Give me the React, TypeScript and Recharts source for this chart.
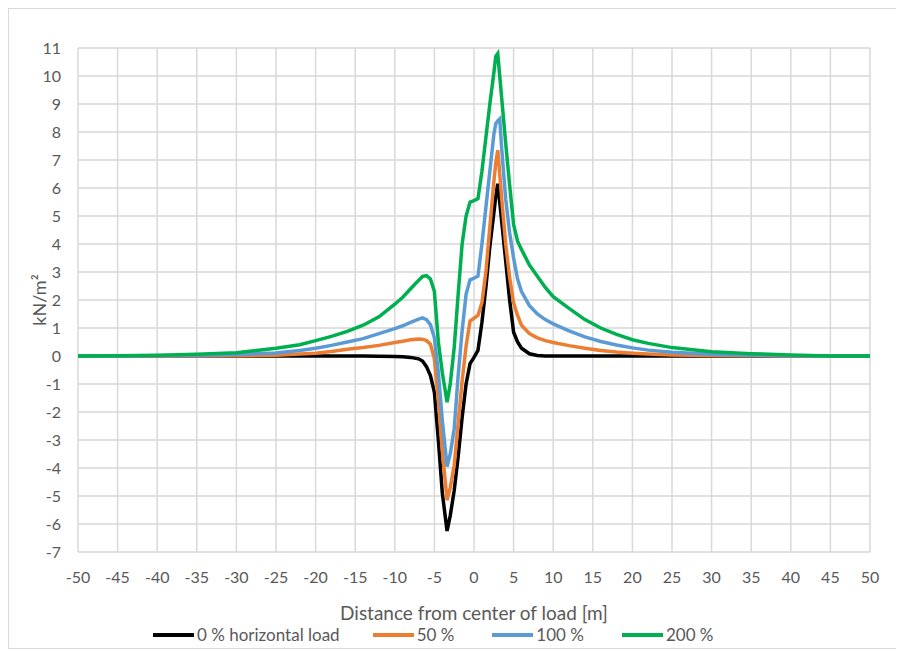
import { LineChart, Line, XAxis, YAxis, CartesianGrid, Legend } from 'recharts'

// distance from center of load [m]
const distance = [
  -50, -45, -40, -35, -30, -25, -22, -20, -18, -16, -14, -12, -10, -9, -8, -7, -6.5, -6, -5.5, -5,
  -4.5, -4, -3.4, -3, -2.5, -2, -1.5, -1, -0.5, 0, 0.5, 1, 1.5, 2, 2.5, 2.75, 3, 3.25, 3.5, 4,
  4.5, 5, 5.5, 6, 7, 8, 9, 10, 12, 14, 16, 18, 20, 22, 25, 30, 35, 40, 45, 50,
]

// kN/m2 for each horizontal load level
const load0 = [
  0, 0, 0, 0, 0, 0, 0, 0, 0, 0, 0, -0.01, -0.02, -0.03, -0.05, -0.1, -0.18, -0.38, -0.7, -1.3,
  -3.0, -4.9, -6.25, -5.7, -4.8, -3.6, -2.2, -1.0, -0.27, -0.05, 0.2, 1.2, 2.45, 3.9, 5.1, 5.7, 6.15, 5.5, 4.8, 3.4,
  2.0, 0.85, 0.5, 0.28, 0.08, 0.02, 0, 0, 0, 0, 0, 0, 0, 0, 0, 0, 0, 0, 0, 0,
]
const load50 = [
  0, 0, 0, 0, 0.01, 0.03, 0.07, 0.1, 0.16, 0.24, 0.3, 0.38, 0.48, 0.53, 0.58, 0.61, 0.6, 0.55, 0.42, -0.1,
  -1.6, -3.4, -5.15, -4.7, -3.9, -2.4, -0.9, 0.35, 1.25, 1.35, 1.45, 1.9, 3.0, 4.6, 6.2, 6.9, 7.35, 6.5, 5.6, 4.0,
  2.8, 1.9, 1.45, 1.1, 0.8, 0.65, 0.55, 0.48, 0.37, 0.28, 0.2, 0.14, 0.1, 0.07, 0.04, 0.02, 0.01, 0, 0, 0,
]
const load100 = [
  0, 0, 0.01, 0.02, 0.05, 0.11, 0.2, 0.28, 0.38, 0.5, 0.62, 0.8, 0.98, 1.08, 1.2, 1.32, 1.36, 1.3, 1.12, 0.65,
  -0.6, -2.3, -3.95, -3.5, -2.6, -0.7, 0.9, 2.2, 2.72, 2.78, 2.85, 4.0, 5.3, 6.6, 7.9, 8.3, 8.4, 8.47, 7.4, 5.6,
  4.4, 3.5, 2.75, 2.3, 1.8, 1.5, 1.3, 1.15, 0.9, 0.68, 0.52, 0.39, 0.29, 0.21, 0.13, 0.06, 0.03, 0.01, 0, 0,
]
const load200 = [
  0, 0.01, 0.03, 0.06, 0.12, 0.28, 0.4, 0.55, 0.7, 0.88, 1.1, 1.4, 1.85, 2.1, 2.4, 2.7, 2.84, 2.87, 2.75, 2.3,
  0.5, -0.6, -1.65, -1.0, 0.3, 2.2, 4.0, 5.0, 5.5, 5.55, 5.62, 6.6, 7.8, 9.0, 10.1, 10.7, 10.8, 10.0, 9.2, 7.6,
  6.1, 4.7, 4.1, 3.8, 3.25, 2.85, 2.45, 2.12, 1.7, 1.3, 1.0, 0.77, 0.58, 0.45, 0.3, 0.15, 0.08, 0.04, 0, 0,
]

const xTicks = [-50, -45, -40, -35, -30, -25, -20, -15, -10, -5, 0, 5, 10, 15, 20, 25, 30, 35, 40, 45, 50]
const yTicks = [-7, -6, -5, -4, -3, -2, -1, 0, 1, 2, 3, 4, 5, 6, 7, 8, 9, 10, 11]

const seriesNames = ['0 % horizontal load', '50 %', '100 %', '200 %']
const seriesColors = ['#000000', '#ED7D31', '#5B9BD5', '#00B050']

const data = distance.map((d, i) => ({
  d,
  s0: load0[i],
  s50: load50[i],
  s100: load100[i],
  s200: load200[i],
}))

// minor gridlines every 0.2
const minorY: number[] = []
for (let v = -70; v <= 110; v += 2) minorY.push(v / 10)

const font = 'Lato, "Open Sans", sans-serif'

function LegendRow() {
  return (
    <div style={{ display: 'flex', paddingLeft: 144, fontFamily: font, fontSize: 17, color: '#595959' }}>
      {seriesNames.map((name, i) => (
        <div key={name} style={{ display: 'flex', alignItems: 'center', marginRight: i === 0 ? 33 : 38 }}>
          <span style={{ display: 'inline-block', width: 41, height: 4, background: seriesColors[i], marginRight: 3 }} />
          <span>{name}</span>
        </div>
      ))}
    </div>
  )
}

function YTitle(props: any) {
  const vb = props.viewBox
  const x = vb.x + 30
  const y = vb.y + vb.height / 2
  return (
    <text
      x={x}
      y={y}
      transform={`rotate(-90, ${x}, ${y})`}
      textAnchor="middle"
      dominantBaseline="central"
      fontFamily={font}
      fontSize={18}
      fill="#595959"
    >
      kN/m²
    </text>
  )
}

export default function App() {
  return (
    <div style={{ width: 888, height: 639, border: '1px solid #d9d9d9', background: '#fff' }}>
      <LineChart width={888} height={639} data={data} margin={{ top: 39, right: 27, left: 0, bottom: 4 }}>
        <CartesianGrid
          stroke="#efefef"
          vertical={false}
          horizontalValues={minorY}
        />
        <CartesianGrid stroke="#d9d9d9" strokeWidth={1.5} verticalValues={xTicks} horizontalValues={yTicks} />
        <XAxis
          dataKey="d"
          type="number"
          domain={[-50, 50]}
          ticks={xTicks}
          axisLine={false}
          tickLine={false}
          tickMargin={14}
          height={72}
          tick={{ fill: '#595959', fontSize: 16, fontFamily: font }}
          label={{
            value: 'Distance from center of load [m]',
            position: 'insideBottom',
            offset: 4,
            fill: '#595959',
            fontSize: 19,
            fontFamily: font,
          }}
        />
        <YAxis
          type="number"
          domain={[-7, 11]}
          ticks={yTicks}
          axisLine={false}
          tickLine={false}
          tickMargin={11}
          width={69}
          tick={{ fill: '#595959', fontSize: 16, fontFamily: font }}
          label={{ content: YTitle }}
        />
        <Legend verticalAlign="bottom" height={20} wrapperStyle={{ left: 0, width: 888 }} content={LegendRow} />
        <Line dataKey="s0" name={seriesNames[0]} stroke={seriesColors[0]} strokeWidth={3.5} dot={false} type="linear" isAnimationActive={false} />
        <Line dataKey="s50" name={seriesNames[1]} stroke={seriesColors[1]} strokeWidth={3.5} dot={false} type="linear" isAnimationActive={false} />
        <Line dataKey="s100" name={seriesNames[2]} stroke={seriesColors[2]} strokeWidth={3.5} dot={false} type="linear" isAnimationActive={false} />
        <Line dataKey="s200" name={seriesNames[3]} stroke={seriesColors[3]} strokeWidth={3.5} dot={false} type="linear" isAnimationActive={false} />
      </LineChart>
    </div>
  )
}
